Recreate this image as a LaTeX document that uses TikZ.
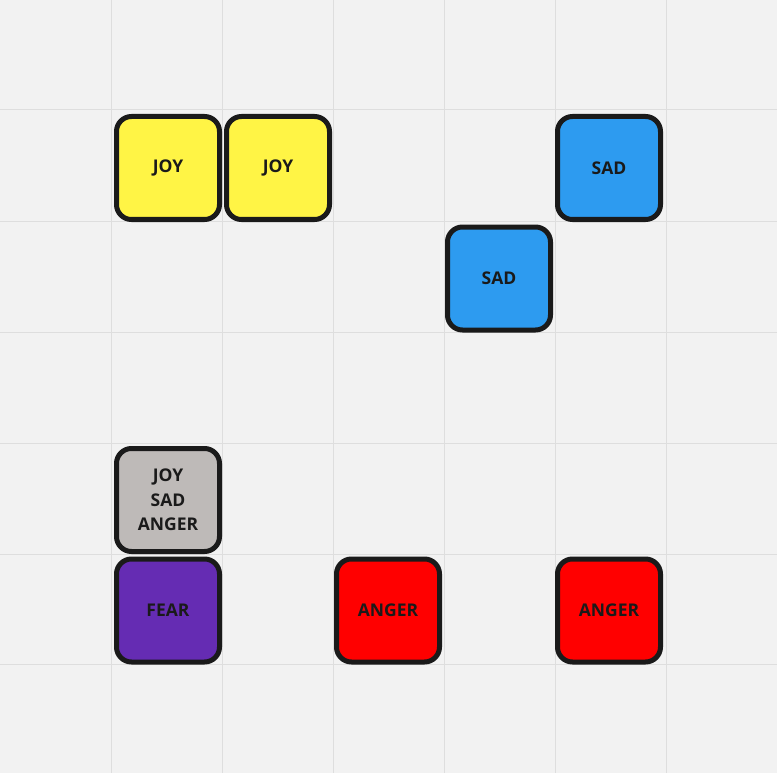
\documentclass[tikz,border=0pt]{standalone}
\usepackage{fontspec}
\setmainfont{Open Sans}
\definecolor{bg}{HTML}{F2F2F2}
\definecolor{gridc}{HTML}{DEDEDE}
\definecolor{edge}{HTML}{1A1A1A}
\definecolor{joyc}{HTML}{FFF445}
\definecolor{sadc}{HTML}{2D9BF0}
\definecolor{angc}{HTML}{FF0000}
\definecolor{fearc}{HTML}{652CB3}
\definecolor{mixc}{HTML}{BEBAB8}
\begin{document}
\begin{tikzpicture}[x=1pt,y=-1pt,
  card/.style={draw=edge, line width=5pt, rounded corners=15pt, minimum width=103pt, minimum height=103pt,
    inner sep=0pt, align=center, text=edge, font=\fontsize{17.5}{24.5}\selectfont\bfseries}]
\fill[bg] (0,0) rectangle (777,773);
\useasboundingbox (0,0) rectangle (777,773);
\foreach \x in {111,222,333,444,555,666} \draw[gridc, line width=1pt] (\x,0) -- (\x,773);
\foreach \y in {110,221,332,443,554,664} \draw[gridc, line width=1pt] (0,\y) -- (777,\y);
\node[card, fill=joyc] (joy1) at (168,168) {JOY};
\node[card, fill=joyc] (joy2) at (278,168) {JOY};
\node[card, fill=sadc] (sad1) at (609,168) {SAD};
\node[card, fill=sadc] (sad2) at (499,278.5) {SAD};
\node[card, fill=mixc] (mix) at (168,500) {JOY\\SAD\\ANGER};
\node[card, fill=fearc] (fear) at (168,610.5) {FEAR};
\node[card, fill=angc] (ang1) at (388,610.5) {ANGER};
\node[card, fill=angc] (ang2) at (609,610.5) {ANGER};
\end{tikzpicture}
\end{document}
